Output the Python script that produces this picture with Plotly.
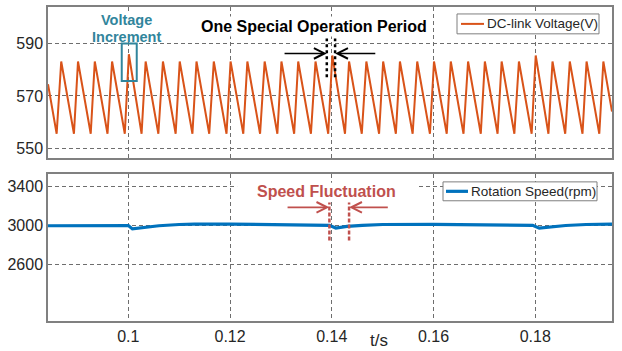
import plotly.graph_objects as go

# ---------------- data ----------------
volt_t = [0.0842,
          0.0859, 0.0868, 0.0893, 0.0901, 0.0926, 0.0934, 0.0959, 0.0968,
          0.0993, 0.1001, 0.1026, 0.1034, 0.1059, 0.1068, 0.1093, 0.1101,
          0.1126, 0.1134, 0.1159, 0.1168, 0.1193, 0.1201, 0.1226, 0.1234,
          0.1259, 0.1268, 0.1293, 0.1301, 0.1326, 0.1334, 0.1359, 0.1368,
          0.1393, 0.1401, 0.1426, 0.1434, 0.1459, 0.1468, 0.1493, 0.1501,
          0.1526, 0.1534, 0.1559, 0.1568, 0.1593, 0.1601, 0.1626, 0.1634,
          0.1659, 0.1668, 0.1693, 0.1701, 0.1726, 0.1734, 0.1759, 0.1768,
          0.1793, 0.1801, 0.1826, 0.1834, 0.1859, 0.1868, 0.1893, 0.1901,
          0.1926, 0.1934,
          0.1951]
volt_v = [574.5,
          555.5, 583.2, 555.5, 583.2, 555.5, 583.2, 555.5, 583.2,
          555.5, 586.0, 555.5, 583.2, 555.5, 583.2, 555.5, 583.2,
          555.5, 583.2, 555.5, 583.2, 555.5, 583.2, 555.5, 583.2,
          555.5, 583.2, 555.5, 583.2, 555.5, 583.2, 555.5, 583.2,
          555.5, 585.5, 555.5, 583.2, 555.5, 583.2, 555.5, 583.2,
          555.5, 583.2, 555.5, 583.2, 555.5, 583.2, 555.5, 583.2,
          555.5, 583.2, 555.5, 583.2, 555.5, 583.2, 555.5, 583.2,
          555.5, 585.5, 555.5, 583.2, 555.5, 583.2, 555.5, 583.2,
          555.5, 583.2,
          564.0]

speed_t = [0.0842, 0.0950, 0.1000, 0.1008, 0.1030, 0.1060, 0.1100, 0.1130,
           0.1200, 0.1300, 0.1395, 0.1408, 0.1430, 0.1460, 0.1500, 0.1600,
           0.1700, 0.1795, 0.1808, 0.1830, 0.1860, 0.1900, 0.1951]
speed_v = [2995, 2995, 2998, 2963, 2980, 2995, 3008, 3012,
           3012, 3005, 3000, 2972, 2988, 3000, 3008, 3010,
           3005, 3000, 2970, 2985, 2998, 3008, 3012]

x_ticks = [0.1, 0.12, 0.14, 0.16, 0.18]
x_ticklabels = ["0.1", "0.12", "0.14", "0.16", "0.18"]
volt_ticks = [550, 570, 590]
speed_ticks = [2600, 3000, 3400]

volt_name = "DC-link Voltage(V)"
speed_name = "Rotation Speed(rpm)"

FONT = "Liberation Sans, Arial, sans-serif"
TEAL = "#31859C"
RED = "#C0504D"
ORANGE = "#D95319"
BLUE = "#0072BD"
GRID = "#6e6e6e"
FRAME = "#808080"
TXT = "#262626"

# plot-area geometry helpers (pixels -> paper)
L, R, T, B, W, H = 48, 10, 5, 30, 622, 351
PW, PH = W - L - R, H - T - B


def px(xp):
    return (xp - L) / PW


def py(yp):
    return (H - B - yp) / PH


fig = go.Figure()
fig.add_trace(go.Scatter(x=volt_t, y=volt_v, mode="lines", name=volt_name,
                         line=dict(color=ORANGE, width=2),
                         xaxis="x", yaxis="y", showlegend=False))
fig.add_trace(go.Scatter(x=speed_t, y=speed_v, mode="lines", name=speed_name,
                         line=dict(color=BLUE, width=3.2),
                         xaxis="x2", yaxis="y2", showlegend=False))

axis_common = dict(showline=True, mirror=True, linecolor=FRAME, linewidth=1.5,
                   showgrid=True, gridcolor=GRID, griddash="4px,3px", gridwidth=1,
                   zeroline=False, ticks="",
                   tickfont=dict(family=FONT, size=16, color=TXT))

fig.update_layout(
    width=W, height=H,
    margin=dict(l=L, r=R, t=T, b=B),
    paper_bgcolor="white", plot_bgcolor="white",
    font=dict(family=FONT, color=TXT),
    showlegend=False,
    xaxis=dict(domain=[0, 1], anchor="y", range=[0.0842, 0.1951],
               tickvals=x_ticks, ticktext=x_ticklabels, showticklabels=False,
               **axis_common),
    yaxis=dict(domain=[py(157), 1], anchor="x", range=[546.2, 604.1],
               tickvals=volt_ticks, **axis_common),
    xaxis2=dict(domain=[0, 1], anchor="y2", range=[0.0842, 0.1951], matches="x",
                tickvals=x_ticks, ticktext=x_ticklabels, **axis_common),
    yaxis2=dict(domain=[0, py(173.3)], anchor="x2", range=[2012, 3527],
                tickvals=speed_ticks, **axis_common),
)

shapes = []
# white patches hiding the grid behind the labels
shapes.append(dict(type="rect", xref="x", yref="y",
                   x0=0.0917, x1=0.1078, y0=590.8, y1=602.6,
                   fillcolor="white", line=dict(width=0), layer="between"))
shapes.append(dict(type="rect", xref="x2", yref="y2",
                   x0=0.12138, x1=0.15697, y0=3263, y1=3438,
                   fillcolor="white", line=dict(width=0), layer="between"))
# teal box around voltage increment
shapes.append(dict(type="rect", xref="x", yref="y", x0=0.0987, x1=0.10165,
                   y0=575.7, y1=590.1, line=dict(color=TEAL, width=2)))
# black dotted vertical lines (operation period)
for xv in (0.13902, 0.14065):
    shapes.append(dict(type="line", xref="x", yref="y", x0=xv, x1=xv,
                       y0=577.2, y1=592.0,
                       line=dict(color="black", width=2.5, dash="dot")))
# red dashed vertical lines (speed fluctuation)
for xv in (0.13953, 0.14340):
    shapes.append(dict(type="line", xref="x2", yref="y2", x0=xv, x1=xv,
                       y0=2843, y1=3236,
                       line=dict(color=RED, width=2.5, dash="4px,2px")))
# legend boxes + line samples
shapes.append(dict(type="rect", xref="paper", yref="paper",
                   x0=px(457), x1=px(599), y0=py(32), y1=py(12),
                   fillcolor="white", line=dict(color="#7f7f7f", width=1)))
shapes.append(dict(type="line", xref="paper", yref="paper",
                   x0=px(461), x1=px(484), y0=py(22), y1=py(22),
                   line=dict(color=ORANGE, width=2)))
shapes.append(dict(type="rect", xref="paper", yref="paper",
                   x0=px(443), x1=px(597), y0=py(200), y1=py(181),
                   fillcolor="white", line=dict(color="#7f7f7f", width=1)))
shapes.append(dict(type="line", xref="paper", yref="paper",
                   x0=px(446), x1=px(468), y0=py(190.5), y1=py(190.5),
                   line=dict(color=BLUE, width=3.2)))
fig.update_layout(shapes=shapes)

ann = []
# legend texts
ann.append(dict(xref="paper", yref="paper", x=px(485), y=py(22),
                xanchor="left", yanchor="middle", text=volt_name,
                showarrow=False, font=dict(family=FONT, size=13.5, color=TXT)))
ann.append(dict(xref="paper", yref="paper", x=px(469), y=py(190.5),
                xanchor="left", yanchor="middle", text=speed_name,
                showarrow=False, font=dict(family=FONT, size=13.5, color=TXT)))
# Voltage Increment label (two lines)
ann.append(dict(xref="paper", yref="paper", x=px(126.5), y=py(18.3),
                xanchor="center", yanchor="middle", text="<b>Voltage</b>",
                showarrow=False, font=dict(family=FONT, size=14.5, color=TEAL)))
ann.append(dict(xref="paper", yref="paper", x=px(126.5), y=py(35.3),
                xanchor="center", yanchor="middle", text="<b>Increment</b>",
                showarrow=False, font=dict(family=FONT, size=14.5, color=TEAL)))
# One Special Operation Period
ann.append(dict(xref="x", yref="y", x=0.13652, y=596.5,
                text="<b>One Special Operation Period</b>",
                showarrow=False, font=dict(family=FONT, size=16, color="black"),
                bgcolor="white", borderpad=1))
# black arrows
ann.append(dict(xref="x", yref="y", axref="x", ayref="y", x=0.13902, y=586.3,
                ax=0.13042, ay=586.3, text="", showarrow=True, arrowhead=5,
                arrowsize=1.3, arrowwidth=1.6, arrowcolor="black", standoff=0))
ann.append(dict(xref="x", yref="y", axref="x", ayref="y", x=0.14065, y=586.3,
                ax=0.14885, ay=586.3, text="", showarrow=True, arrowhead=5,
                arrowsize=1.3, arrowwidth=1.6, arrowcolor="black", standoff=0))
# Speed Fluctuation
ann.append(dict(xref="x2", yref="y2", x=0.13901, y=3349,
                text="<b>Speed Fluctuation</b>",
                showarrow=False, font=dict(family=FONT, size=16, color=RED)))
ann.append(dict(xref="x2", yref="y2", axref="x2", ayref="y2", x=0.13953, y=3185,
                ax=0.13101, ay=3185, text="", showarrow=True, arrowhead=5,
                arrowsize=1.3, arrowwidth=1.6, arrowcolor=RED, standoff=0))
ann.append(dict(xref="x2", yref="y2", axref="x2", ayref="y2", x=0.14340, y=3185,
                ax=0.15131, ay=3185, text="", showarrow=True, arrowhead=5,
                arrowsize=1.3, arrowwidth=1.6, arrowcolor=RED, standoff=0))
# x-axis label t/s
ann.append(dict(xref="x2", yref="paper", x=0.1492, y=py(341), yanchor="middle",
                text="t/s", showarrow=False,
                font=dict(family=FONT, size=17, color=TXT)))
fig.update_layout(annotations=ann)

fig.write_html("out.html")
